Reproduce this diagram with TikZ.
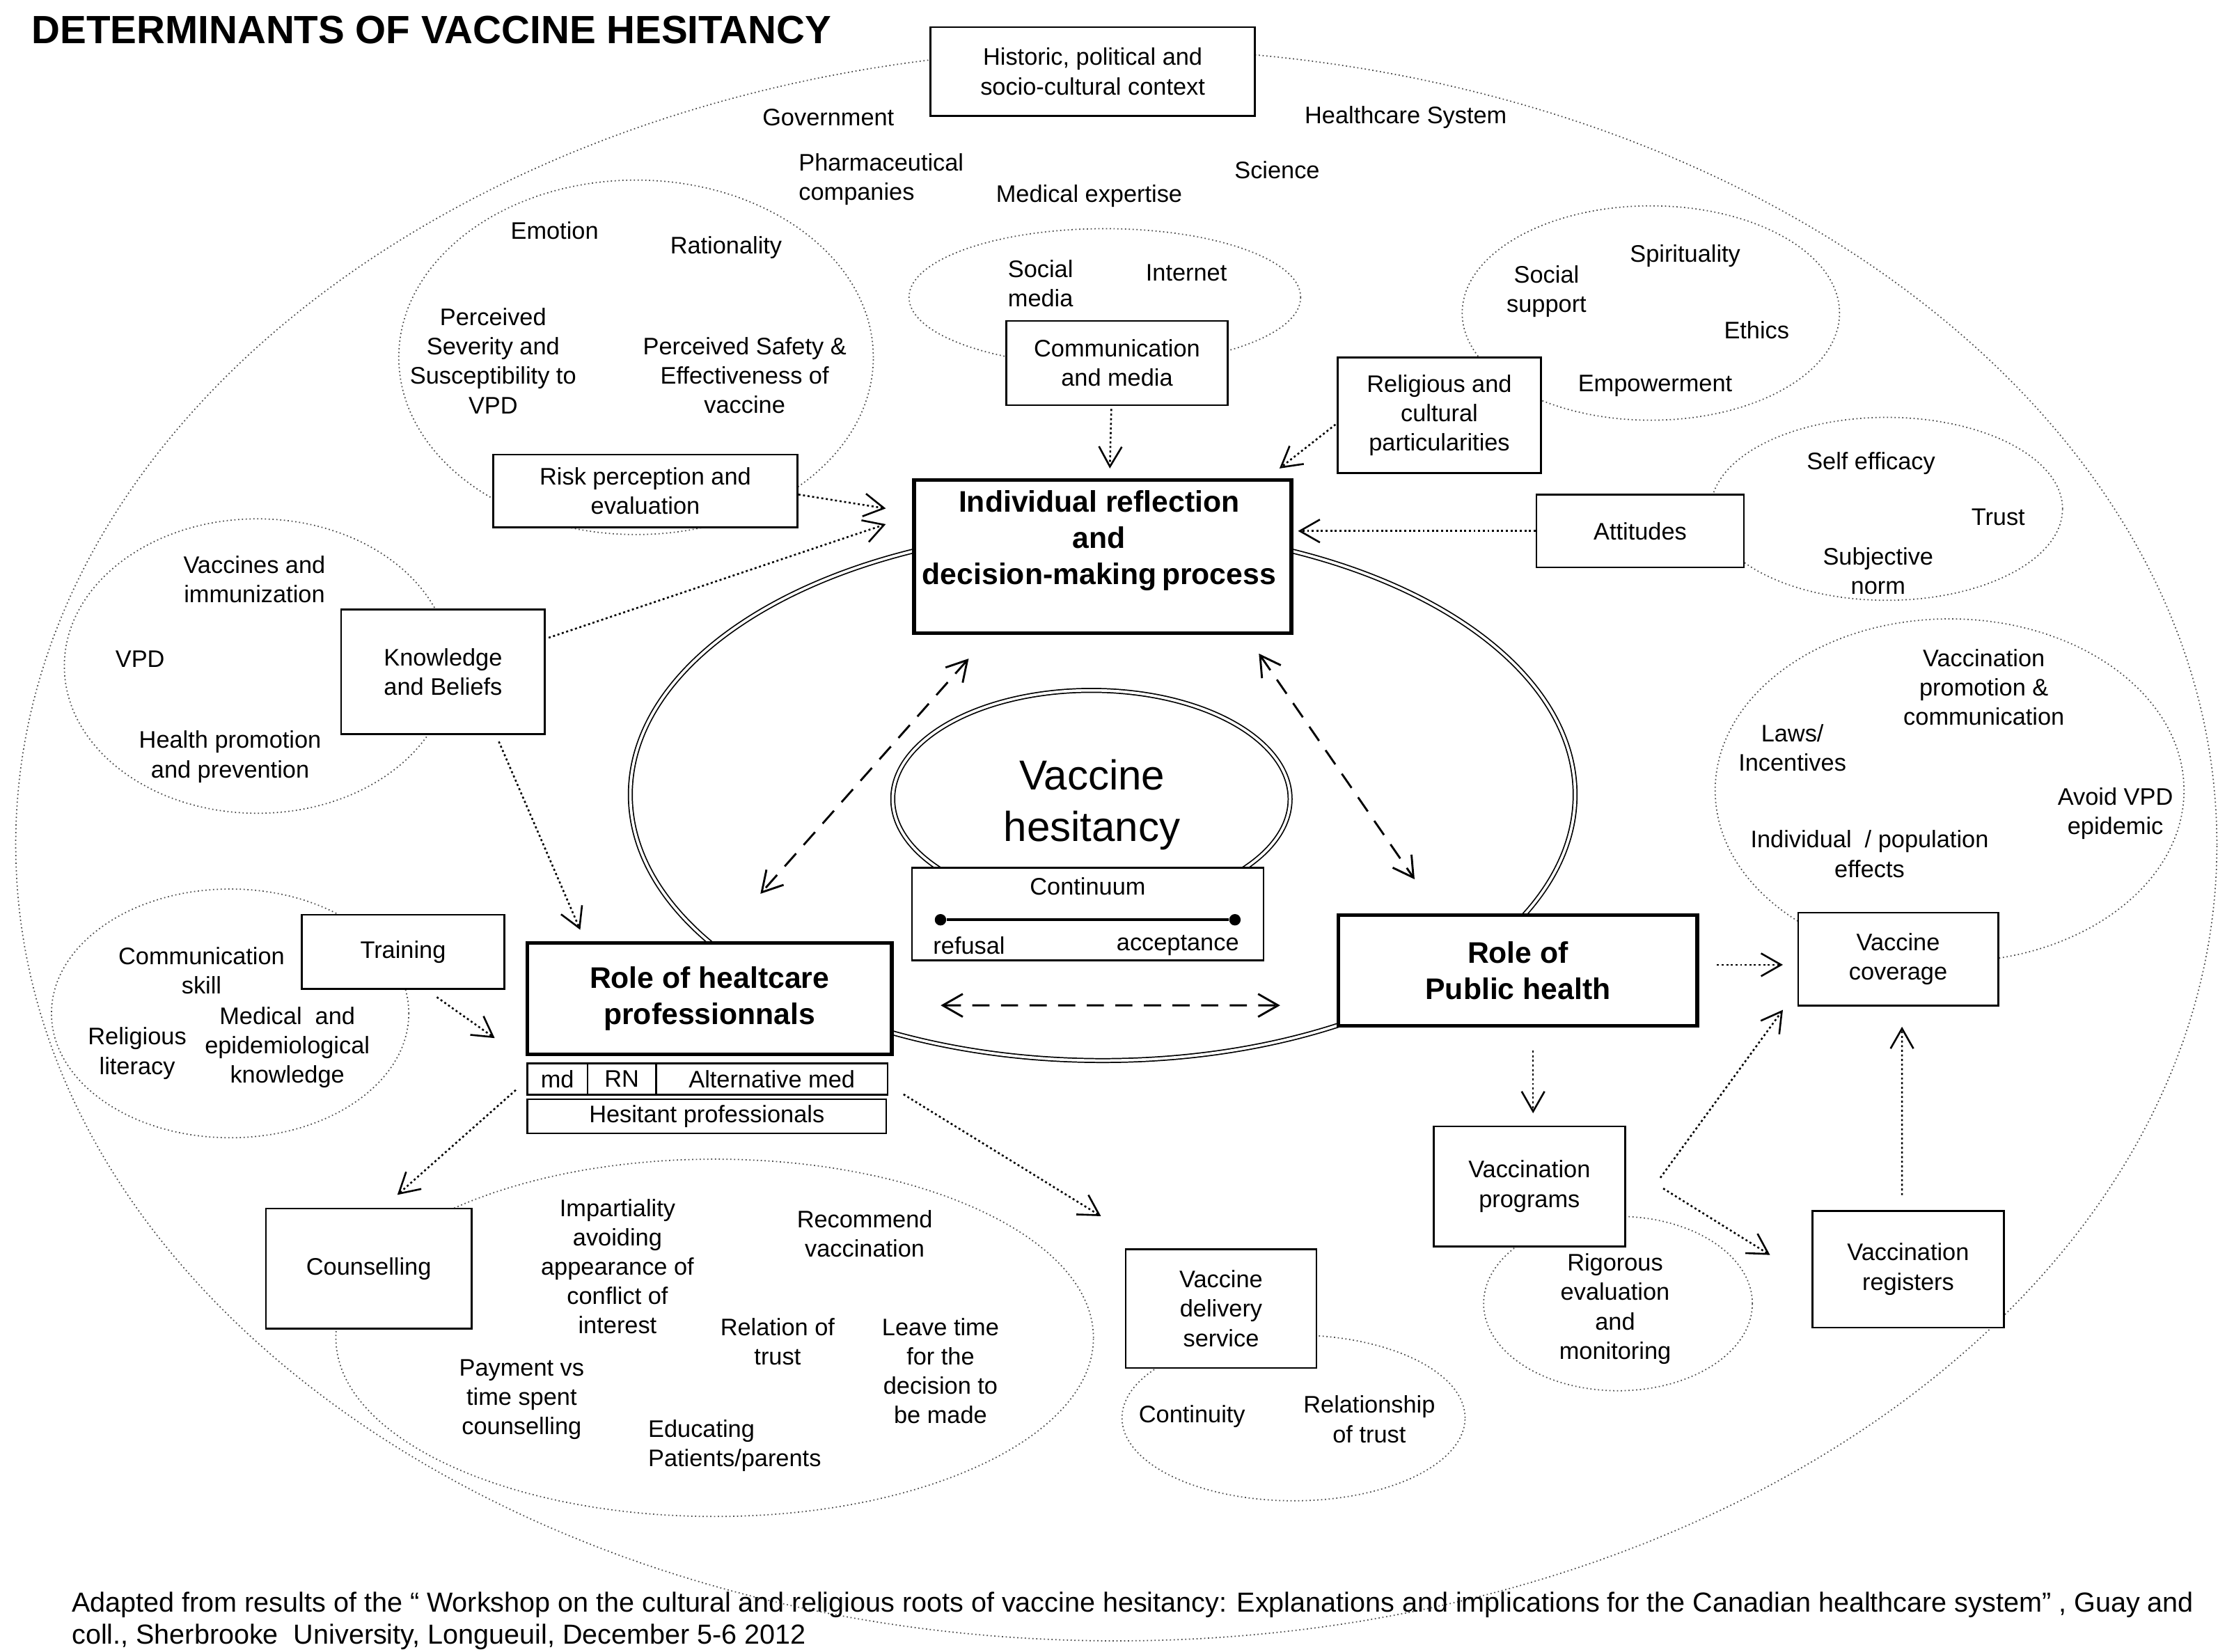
\documentclass[tikz,border=0pt]{standalone}
\usepackage{fontspec}
\setmainfont{Liberation Sans}
\usetikzlibrary{arrows.meta,positioning,calc}
\newlength{\px}
\setlength{\px}{0.025cm}

\begin{document}
\begin{tikzpicture}[x=0.025cm, y=-0.025cm,
    every node/.style={inner sep=0pt, align=center, font=\fontsize{11.9}{14.6}\selectfont},
    box/.style={draw, fill=white, line width=0.9pt},
    role/.style={draw, fill=white, line width=1.8pt},
    big/.style={font=\fontsize{14.8}{18}\selectfont\bfseries},
    cloud/.style={draw=black!70, line width=0.6pt, dash pattern=on 0.6pt off 1.3pt},
    ring/.style={double, line width=0.6pt, double distance=1.3pt},
    link/.style={-{Straight Barb[length=0.35cm,width=0.4cm]}, line width=0.9pt, dash pattern=on 1pt off 1.3pt},
    twoway/.style={{Straight Barb[length=0.35cm,width=0.4cm]}-{Straight Barb[length=0.35cm,width=0.4cm]}, line width=1pt, dash pattern=on 0.3cm off 0.2cm}]
                    \useasboundingbox (0,0) rectangle (1563,1155.8);
                    \draw[cloud] (781,591) ellipse [x radius=770\px, y radius=557\px];
                    \draw[cloud] (445,250) ellipse [x radius=166\px, y radius=124\px];
                    \draw[cloud] (773,208) ellipse [x radius=137\px, y radius=48\px];
                    \draw[cloud] (1155,219) ellipse [x radius=132\px, y radius=75\px];
                    \draw[cloud] (1320,356) ellipse [x radius=123\px, y radius=64\px];
                    \draw[cloud] (180,466) ellipse [x radius=135\px, y radius=103\px];
                    \draw[cloud] (161,709) ellipse [x radius=125\px, y radius=87\px];
                    \draw[cloud] (500,936) ellipse [x radius=265\px, y radius=125\px];
                    \draw[cloud] (905,992) ellipse [x radius=120\px, y radius=58\px];
                    \draw[cloud] (1132,912) ellipse [x radius=94\px, y radius=61\px];
                    \draw[cloud] (1364,553) ellipse [x radius=164\px, y radius=120\px];
                    \draw[ring] (771.5,556) ellipse [x radius=330.5\px, y radius=186\px];
                    \draw[ring] (763.6,559) ellipse [x radius=139\px, y radius=76\px];
                    \node[font=\fontsize{19.6}{22}\selectfont\bfseries, anchor=west] (title) at (22,21) {DETERMINANTS OF VACCINE HESITANCY};
                    \node[box, minimum width=227\px, minimum height=62\px] (context) at (764.5,50) {Historic, political and\\socio-cultural context};
                    \node[box, minimum width=213\px, minimum height=51\px] (risk) at (451.5,343.5) {Risk perception and\\evaluation};
                    \node[box, minimum width=155\px, minimum height=59\px] (media) at (781.5,254) {Communication\\and media};
                    \node[box, minimum width=142\px, minimum height=81\px] (relig) at (1007,290.5) {Religious and\\cultural\\particularities};
                    \node[box, minimum width=145\px, minimum height=51\px] (attitudes) at (1147.5,371.5) {Attitudes};
                    \node[role, minimum width=264\px, minimum height=107\px] (decision) at (771.5,389.5) {};
                    \node[big] (decisiontext) at (769,378.3) {Individual reflection\\and\\decision-making\,process};
                    \node[box, minimum width=142.5\px, minimum height=87\px] (knowledge) at (310,470) {Knowledge\\and Beliefs};
                    \node[box, minimum width=142\px, minimum height=52\px] (training) at (282,666) {Training};
                    \node[role, big, minimum width=255\px, minimum height=78\px] (hcp) at (496.4,698.6) {Role of healtcare\\professionnals};
                    \node[box, minimum width=42\px, minimum height=22\px] (md) at (390,755) {md};
                    \node[box, minimum width=48\px, minimum height=22\px] (rn) at (435,755) {RN};
                    \node[box, minimum width=162\px, minimum height=22\px] (altmed) at (540,755) {Alternative med};
                    \node[box, minimum width=251\px, minimum height=24\px] (hesitant) at (494.5,781) {Hesitant professionals};
                    \node[box, minimum width=144\px, minimum height=84\px] (counselling) at (258,887.6) {Counselling};
                    \node[box, minimum width=133.4\px, minimum height=83\px] (delivery) at (854.3,915.5) {Vaccine\\delivery\\service};
                    \node[role, big, minimum width=251\px, minimum height=77.5\px] (publichealth) at (1062,679) {Role of\\Public health};
                    \node[box, minimum width=140\px, minimum height=65\px] (coverage) at (1328,671) {Vaccine\\coverage};
                    \node[box, minimum width=134\px, minimum height=84\px] (programs) at (1070,830) {Vaccination\\programs};
                    \node[box, minimum width=134\px, minimum height=81.5\px] (registers) at (1335,888) {Vaccination\\registers};
                    \node[box, minimum width=246\px, minimum height=65\px] (continuum) at (761,639.5) {};
                    \node (continuumlabel) at (761,620) {Continuum};
                    \node (refusal) at (678,661.5) {refusal};
                    \node (acceptance) at (824,661.5) {acceptance};
                    \node[circle, fill, minimum size=8\px] (refusalend) at (658,643.5) {};
                    \node[circle, fill, minimum size=8\px] (acceptanceend) at (864,643.5) {};
                    \draw[line width=1.3pt] (refusalend) -- (acceptanceend);
                    \node[font=\fontsize{20.8}{25.6}\selectfont] (hesitancy) at (764,563) {Vaccine\\hesitancy};
                    \node (government) at (579.5,82) {Government};
                    \node (healthsystem) at (983.5,82) {Healthcare System};
                    \node[align=left] (pharma) at (616.5,125.5) {Pharmaceutical\\companies};
                    \node (expertise) at (762,137) {Medical expertise};
                    \node (science) at (893.5,119) {Science};
                    \node (emotion) at (388,161.5) {Emotion};
                    \node (rationality) at (508,173) {Rationality};
                    \node (severity) at (345,252.5) {Perceived\\Severity and\\Susceptibility to\\VPD};
                    \node (safety) at (521,262.5) {Perceived Safety \&\\Effectiveness of\\vaccine};
                    \node (socialmedia) at (728,198.5) {Social\\media};
                    \node (internet) at (830,191) {Internet};
                    \node (socialsupport) at (1082,204) {Social\\support};
                    \node (spirituality) at (1179,179) {Spirituality};
                    \node (ethics) at (1229,231) {Ethics};
                    \node (empowerment) at (1158,270) {Empowerment};
                    \node (selfefficacy) at (1309,324) {Self efficacy};
                    \node (trust) at (1398,362) {Trust};
                    \node (norm) at (1314,399.5) {Subjective\\norm};
                    \node (vaccines) at (178,405.5) {Vaccines and\\immunization};
                    \node (vpd) at (98,461) {VPD};
                    \node (promotion) at (161,529.5) {Health promotion\\and prevention};
                    \node (commskill) at (141,679) {Communication\\skill};
                    \node (literacy) at (96,737) {Religious\\literacy};
                    \node (epidemio) at (201,733) {Medical\ \ and\\epidemiological\\knowledge};
                    \node (impartiality) at (432,886) {Impartiality\\avoiding\\appearance of\\conflict of\\interest};
                    \node (recommend) at (605,863) {Recommend\\vaccination};
                    \node (relation) at (544,938.5) {Relation of\\trust};
                    \node (leavetime) at (658,959) {Leave time\\for the\\decision to\\be made};
                    \node (payment) at (365,979) {Payment vs\\time spent\\counselling};
                    \node[align=left] (educating) at (514,1011.5) {Educating\\Patients/parents};
                    \node (continuity) at (834,991) {Continuity};
                    \node (reltrust) at (958,993) {Relationship\\of trust};
                    \node (rigorous) at (1130,915.7) {Rigorous\\evaluation\\and\\monitoring};
                    \node (vpromotion) at (1388,481) {Vaccination\\promotion \&\\communication};
                    \node (laws) at (1254,523.4) {Laws/\\Incentives};
                    \node (effects) at (1308,597.5) {Individual\ \ / population\\effects};
                    \node (avoid) at (1480,569) {Avoid VPD\\epidemic};
                    \node[font=\fontsize{13.7}{15.6}\selectfont, anchor=west] (source) at (50,1123) {Adapted from results of the \textquotedblleft\ Workshop on the cultural and religious roots of vaccine hesitancy: Explanations and implications for the Canadian healthcare system\textquotedblright\ , Guay and};
                    \node[font=\fontsize{13.7}{15.6}\selectfont, anchor=west] (source2) at (50,1145) {coll., Sherbrooke\ \ University, Longueuil, December 5-6 2012};
                    \draw[link] ($(media.south)+(-4,2)$) -- ($(decision.north)+(5,-7)$);
                    \draw[link] ($(relig.west)+(-1,6.5)$) -- ($(decision.north east)+(-9.6,-7)$);
                    \draw[link] (attitudes.west) -- ($(decision.east)+(3.4,-18)$);
                    \draw[link] ($(risk.east)+(0,2.5)$) -- ($(decision.north west)+(-18.5,21)$);
                    \draw[link] ($(knowledge.north east)+(2,20.3)$) -- ($(decision.north west)+(-18.5,32)$);
                    \draw[link] ($(knowledge.south)+(39,4.7)$) -- ($(hcp.north west)+(38.3,-7.8)$);
                    \draw[link] ($(training.south east)+(-48,5)$) -- ($(hcp.west)+(-21.5,27.7)$);
                    \draw[link] ($(md.south west)+(-7.5,-4)$) -- ($(counselling.north)+(20,-9)$);
                    \draw[link] ($(altmed.south east)+(10.5,-1)$) -- ($(delivery.north west)+(-16.7,-22.5)$);
                    \draw[twoway] ($(decision.south west)+(39.5,16.5)$) -- ($(hcp.north)+(35.6,-33)$);
                    \draw[twoway] ($(decision.south east)+(-24,13)$) -- ($(publichealth.north)+(-72.3,-23.8)$);
                    \draw[twoway] ($(hcp.east)+(33,4.8)$) -- ($(publichealth.west)+(-39.6,24.4)$);
                    \draw[link] ($(publichealth.east)+(12.5,-4)$) -- ($(coverage.west)+(-10,4)$);
                    \draw[link] ($(publichealth.south)+(10.6,16)$) -- ($(programs.north)+(2.6,-8.5)$);
                    \draw[link] ($(programs.east)+(24,-6)$) -- ($(coverage.south west)+(-10,2.4)$);
                    \draw[link] ($(programs.east)+(26,1.5)$) -- ($(registers.west)+(-29,-10)$);
                    \draw[link] ($(registers.north)+(-4.3,-10.5)$) -- ($(coverage.south)+(2.7,14.2)$);
                \end{tikzpicture}
\end{document}
